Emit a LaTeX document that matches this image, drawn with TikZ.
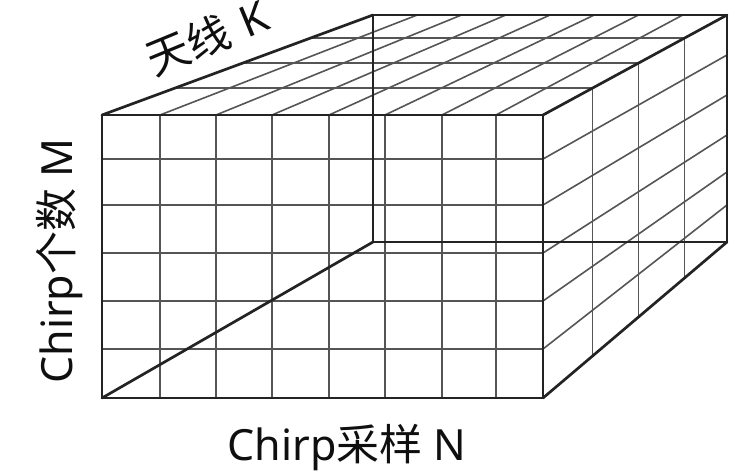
\documentclass[tikz,border=0pt]{standalone}
\usepackage{fontspec}
\usetikzlibrary{calc}
\setmainfont{Noto Sans}
\newfontfamily\cjk{Noto Sans CJK SC}
\definecolor{edgecol}{RGB}{35,35,35}
\definecolor{gridcol}{RGB}{85,85,85}
\definecolor{txtcol}{RGB}{15,15,15}
\begin{document}
\begin{tikzpicture}[x=1pt,y=-1pt,
  edgeline/.style={draw=edgecol,line width=2.7pt,line cap=round,line join=round},
  gridline/.style={draw=gridcol,line width=1.6pt},
  axislabel/.style={text=txtcol,font=\fontsize{43}{47}\selectfont,inner sep=0pt}]
\useasboundingbox (0,0) rectangle (742,472);
% corners
\coordinate (FTL) at (102,115);
\coordinate (FTR) at (543,115);
\coordinate (FBR) at (543,398);
\coordinate (FBL) at (102,398);
\coordinate (BTL) at (373,15);
\coordinate (BTR) at (727,15);
\coordinate (BBR) at (727,242);
\coordinate (BBL) at (373,242);
% front face grid
\foreach \x in {160,216,272,329,385,442,496}
  \draw[gridline] (\x,115) -- (\x,398);
\foreach \y in {159,205,253,301,349}
  \draw[gridline] (102,\y) -- (543,\y);
% top face grid: depth direction
\foreach \xf/\xb in {160/417.25,216/461.5,272/505.75,329/550,385/594.25,442/638.5,496/682.75}
  \draw[gridline] (\xf,115) -- (\xb,15);
% top face grid: width direction at depth levels
\foreach \t in {0.27,0.52,0.77}
  \draw[gridline] ($(FTL)!\t!(BTL)$) -- ($(FTR)!\t!(BTR)$);
% right face grid: depth direction
\foreach \yf/\yb in {159/55,205/95,253/135,301/172,349/205}
  \draw[gridline] (543,\yf) -- (727,\yb);
% right face grid: vertical at depth levels
\foreach \t in {0.27,0.52,0.77}
  \draw[gridline] ($(FTR)!\t!(BTR)$) -- ($(FBR)!\t!(BBR)$);
% edges
\draw[edgeline] (FTL) -- (FTR) -- (FBR) -- (FBL) -- cycle;
\draw[edgeline] (BTL) -- (BTR) -- (BBR) -- (BBL) -- cycle;
\draw[edgeline] (FTL) -- (BTL);
\draw[edgeline] (FTR) -- (BTR);
\draw[edgeline] (FBR) -- (BBR);
\draw[edgeline] (FBL) -- (BBL);
% labels
\node[axislabel,rotate=22.5] (lk) at (207,37) {{\cjk 天线}\,\,K};
\node[axislabel,rotate=90,anchor=base] (lm) at (72,261) {Chirp{\cjk 个数} M};
\node[axislabel,anchor=base] (ln) at (347,460) {Chirp{\cjk 采样} N};
\end{tikzpicture}
\end{document}
